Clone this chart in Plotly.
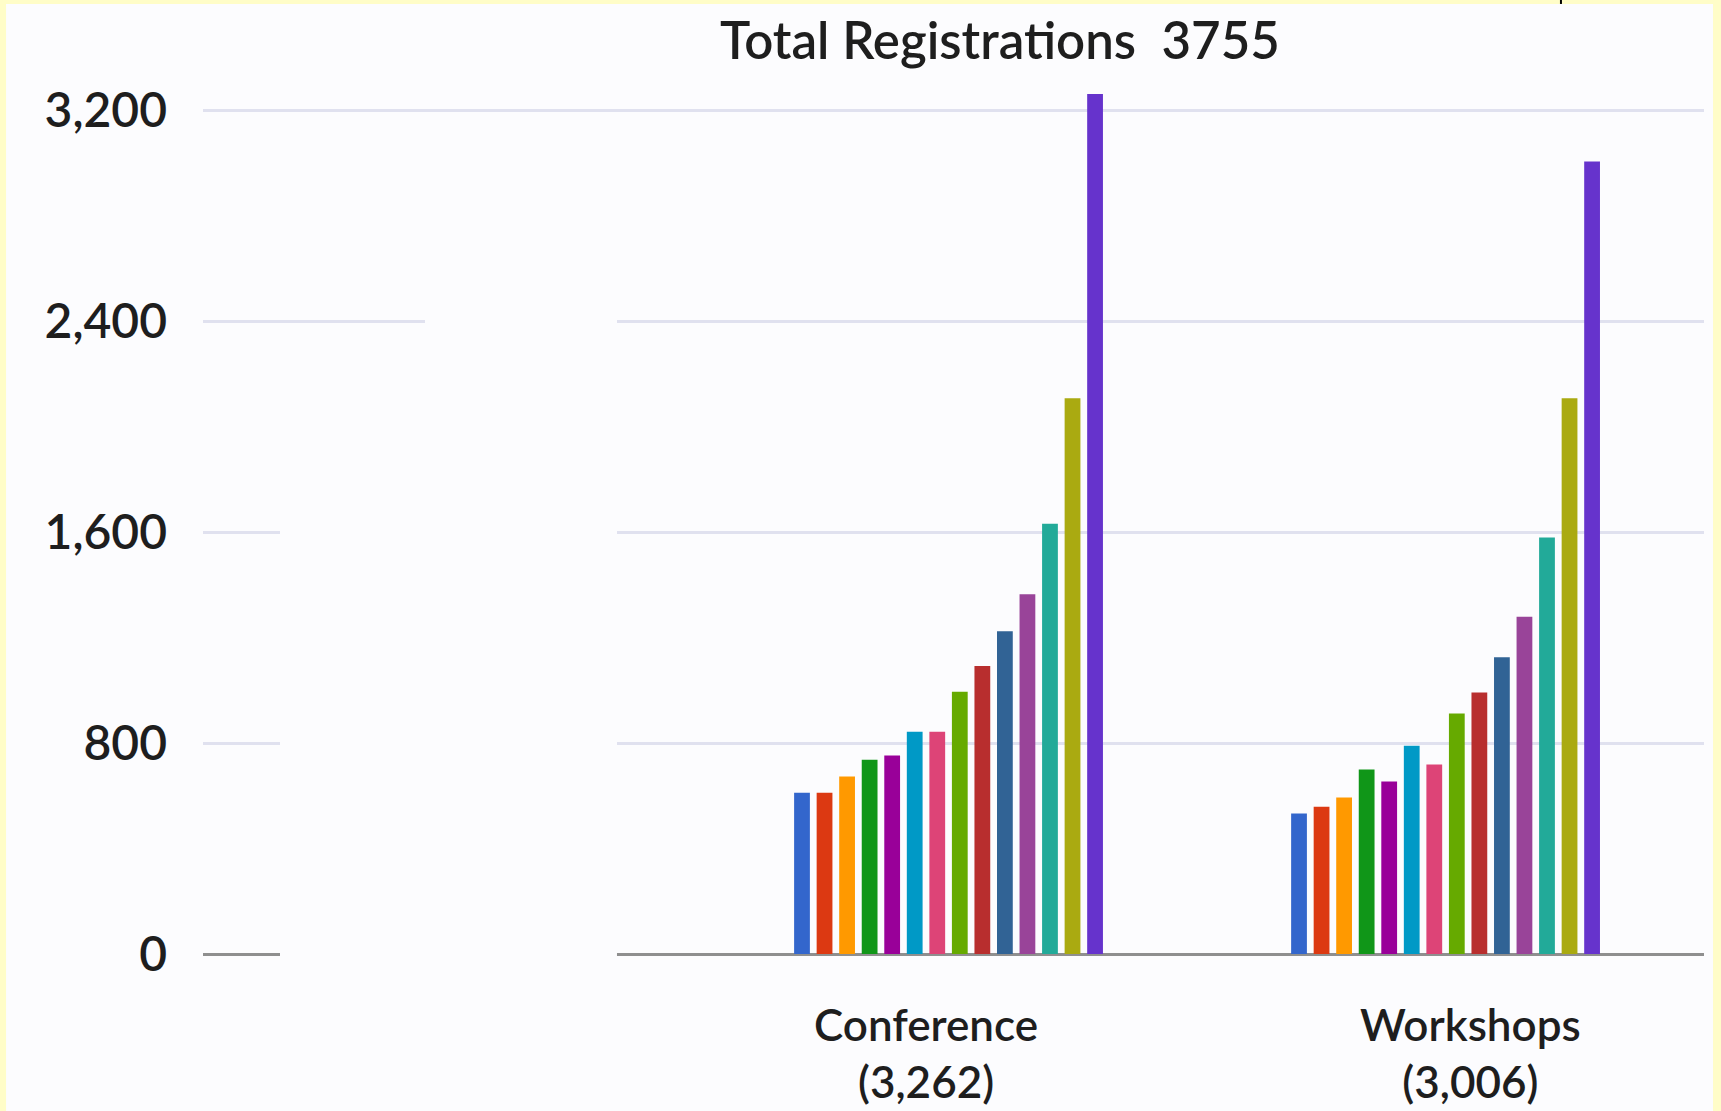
import plotly.graph_objects as go

categories = [" ", "Conference", "Workshops"]
category_totals = ["", "(3,262)", "(3,006)"]
series_names = [f"Series {i}" for i in range(1, 15)]
conference = [612, 612, 673, 737, 753, 843, 843, 995, 1092, 1224, 1365, 1632, 2108, 3262]
workshops = [533, 559, 594, 700, 654, 790, 719, 912, 992, 1126, 1279, 1580, 2108, 3006]
colors = ["#3366cc", "#dc3912", "#ff9900", "#109618", "#990099", "#0099c6", "#dd4477",
          "#66aa00", "#b82e2e", "#316395", "#994499", "#22aa99", "#aaaa11", "#6633cc"]
y_ticks = [0, 800, 1600, 2400, 3200]
y_ticktext = ["0", "800", "1,600", "2,400", "3,200"]

fig = go.Figure()
for i, name in enumerate(series_names):
    fig.add_trace(go.Bar(
        x=categories,
        y=[None, conference[i], workshops[i]],
        name=name,
        marker=dict(color=colors[i], line=dict(width=0)),
    ))

FONT = "Lato, 'Open Sans', sans-serif"
BG = "#fcfcfe"
TXT = "#1e1e1e"
W = 600
FS = 47
LABEL_XSHIFT = [0, -23, 25]  # style: horizontal nudge of each category label

annotations = []
for cat, tot, dx in zip(categories, category_totals, LABEL_XSHIFT):
    if not tot:
        continue
    annotations.append(dict(x=cat, xref="x", y=-0.1135, yref="paper", text=f"{cat}<br>{tot}",
                            showarrow=False, xanchor="center", yanchor="middle", xshift=dx,
                            align="center",
                            font=dict(family=FONT, size=44, color=TXT, weight=W)))

fig.update_layout(
    width=1721, height=1111,
    margin=dict(l=203, r=17, t=84, b=157),
    paper_bgcolor="#fffdc8",
    plot_bgcolor=BG,
    showlegend=False,
    barmode="group",
    bargap=0.365,
    bargroupgap=0.3,
    font=dict(family=FONT, color=TXT, size=FS, weight=W),
    title=dict(text="Total Registrations  3755", x=0.581, xanchor="center",
               y=0.963, yanchor="middle", font=dict(family=FONT, size=51, color=TXT, weight=W)),
    xaxis=dict(type="category", range=[-0.5, 2.52], showgrid=False, zeroline=False,
               showline=False, ticks="", showticklabels=False,
               automargin=False, fixedrange=True),
    yaxis=dict(range=[0, 3300], tickvals=y_ticks, ticktext=y_ticktext,
               showgrid=True, gridcolor="#e0e1ef", gridwidth=3,
               zeroline=True, zerolinecolor="#8f8f8f", zerolinewidth=3,
               showline=False, ticks="", ticklabelstandoff=35, automargin=False,
               tickfont=dict(size=48, color=TXT, weight=W), fixedrange=True),
    annotations=annotations,
    shapes=[
        # white page area inside the yellow frame
        dict(type="rect", xref="paper", yref="paper", x0=-0.1312, x1=1.006, y0=-0.2, y1=1.092,
             fillcolor=BG, line=dict(width=0), layer="below"),
        # occluded strip over the left part of the grid
        dict(type="rect", xref="paper", yref="paper", x0=0.1479, x1=0.2758, y0=0.637, y1=0.924,
             fillcolor=BG, line=dict(width=0), layer="above"),
        dict(type="rect", xref="paper", yref="paper", x0=0.0513, x1=0.2758, y0=-0.015, y1=0.637,
             fillcolor=BG, line=dict(width=0), layer="above"),
        # small dark mark at the top edge
        dict(type="line", xref="paper", yref="paper", x0=0.9047, x1=0.9047, y0=1.092, y1=1.097,
             line=dict(color="#000000", width=2), layer="above"),
    ],
)

fig.write_html("out.html",
               config={"displayModeBar": False, "staticPlot": True},
               post_script="document.body.style.margin='0';document.body.style.overflow='hidden';")
